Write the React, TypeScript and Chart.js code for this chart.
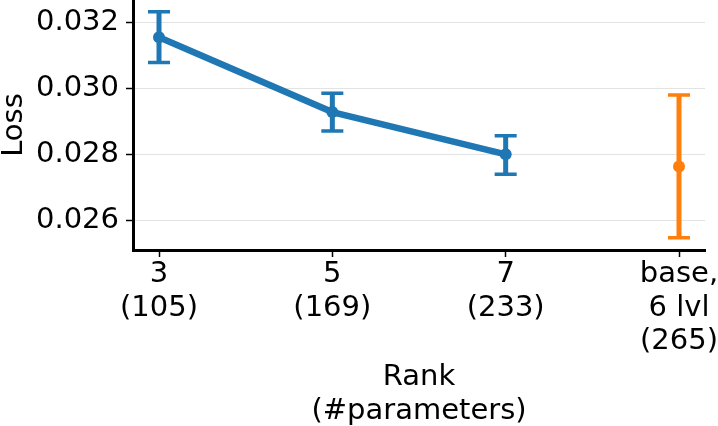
import React, { useEffect, useRef } from "react";
import { Chart, registerables } from "chart.js";

Chart.register(...registerables);

const categories: string[][] = [["3", "(105)"], ["5", "(169)"], ["7", "(233)"], ["base,", "6 lvl", "(265)"]];
const rankX = [0, 1, 2];
const rankLoss = [0.03154, 0.02927, 0.02799];
const rankErrLow = [0.03077, 0.0287, 0.02739];
const rankErrHigh = [0.03231, 0.02984, 0.02855];
const baseX = [3];
const baseLoss = [0.02762];
const baseErrLow = [0.02546];
const baseErrHigh = [0.02979];
const yTicks = [0.026, 0.028, 0.03, 0.032];

const BLUE = "#1f77b4";
const ORANGE = "#ff7f0e";
const FONT = "'DejaVu Sans', sans-serif";

const errorBarPlugin = {
  id: "errorBars",
  afterDatasetsDraw(chart: any) {
    const { ctx, scales } = chart;
    const xs = scales.x;
    const ys = scales.y;
    const groups = [
      { x: rankX, lo: rankErrLow, hi: rankErrHigh, color: BLUE },
      { x: baseX, lo: baseErrLow, hi: baseErrHigh, color: ORANGE },
    ];
    ctx.save();
    for (const g of groups) {
      ctx.strokeStyle = g.color;
      for (let i = 0; i < g.x.length; i++) {
        const px = xs.getPixelForValue(g.x[i]);
        const pLo = ys.getPixelForValue(g.lo[i]);
        const pHi = ys.getPixelForValue(g.hi[i]);
        ctx.lineWidth = 5;
        ctx.beginPath();
        ctx.moveTo(px, pLo);
        ctx.lineTo(px, pHi);
        ctx.stroke();
        ctx.lineWidth = 3.5;
        ctx.beginPath();
        ctx.moveTo(px - 11, pLo);
        ctx.lineTo(px + 11, pLo);
        ctx.moveTo(px - 11, pHi);
        ctx.lineTo(px + 11, pHi);
        ctx.stroke();
      }
    }
    ctx.restore();
  },
};

export default function App() {
  const ref = useRef<HTMLCanvasElement | null>(null);

  useEffect(() => {
    if (!ref.current) return;
    const chart = new Chart(ref.current, {
      type: "scatter",
      data: {
        datasets: [
          {
            data: rankX.map((x, i) => ({ x, y: rankLoss[i] })),
            borderColor: BLUE,
            backgroundColor: BLUE,
            borderWidth: 6.5,
            showLine: true,
            pointRadius: 6,
            pointBorderWidth: 0,
          },
          {
            data: baseX.map((x, i) => ({ x, y: baseLoss[i] })),
            borderColor: ORANGE,
            backgroundColor: ORANGE,
            showLine: false,
            pointRadius: 6,
            pointBorderWidth: 0,
          },
        ],
      },
      options: {
        responsive: false,
        animation: false,
        layout: { autoPadding: false, padding: { left: 0, right: 13, top: 0, bottom: 0 } },
        plugins: { legend: { display: false }, tooltip: { enabled: false } },
        scales: {
          x: {
            type: "linear",
            min: -0.15,
            max: 3.15,
            afterBuildTicks: (s: any) => {
              s.ticks = categories.map((_, i) => ({ value: i }));
            },
            afterFit: (s: any) => {
              s.height = 176;
              s.paddingLeft = 0;
              s.paddingRight = 0;
            },
            ticks: {
              color: "#000",
              font: { family: FONT, size: 29, lineHeight: "33.5px" },
              padding: 1,
              maxRotation: 0,
              autoSkip: false,
              callback: (v: any) => categories[Math.round(Number(v))] ?? "",
            },
            grid: {
              drawOnChartArea: false,
              drawTicks: true,
              tickLength: 7,
              tickColor: "#000",
              tickWidth: 1.5,
            },
            border: { display: true, color: "#000", width: 3 },
            title: {
              display: true,
              text: ["Rank", "(#parameters)"],
              color: "#000",
              font: { family: FONT, size: 29, lineHeight: "33.5px" },
              padding: { top: 0, bottom: -2 },
            },
          },
          y: {
            type: "linear",
            min: 0.025091,
            max: 0.032667,
            afterBuildTicks: (s: any) => {
              s.ticks = yTicks.map((v) => ({ value: v }));
            },
            afterFit: (s: any) => {
              s.width = 133;
              s.paddingTop = 0;
              s.paddingBottom = 0;
            },
            ticks: {
              color: "#000",
              font: { family: FONT, size: 29 },
              padding: 7,
              callback: (v: any) => Number(v).toFixed(3),
            },
            grid: {
              color: "#e3e3e3",
              lineWidth: 1,
              drawTicks: true,
              tickLength: 7,
              tickColor: "#000",
              tickWidth: 1.5,
            },
            border: { display: true, color: "#000", width: 3 },
            title: {
              display: true,
              text: "Loss",
              color: "#000",
              font: { family: FONT, size: 29, lineHeight: 1.0 },
              padding: { top: 0, bottom: 0 },
            },
          },
        },
      },
      plugins: [errorBarPlugin],
    } as any);
    return () => chart.destroy();
  }, []);

  return (
    <div style={{ position: "absolute", left: 0, top: 0, width: 718, height: 426, background: "#fff" }}>
      <canvas ref={ref} width={718} height={426} style={{ display: "block" }} />
    </div>
  );
}
